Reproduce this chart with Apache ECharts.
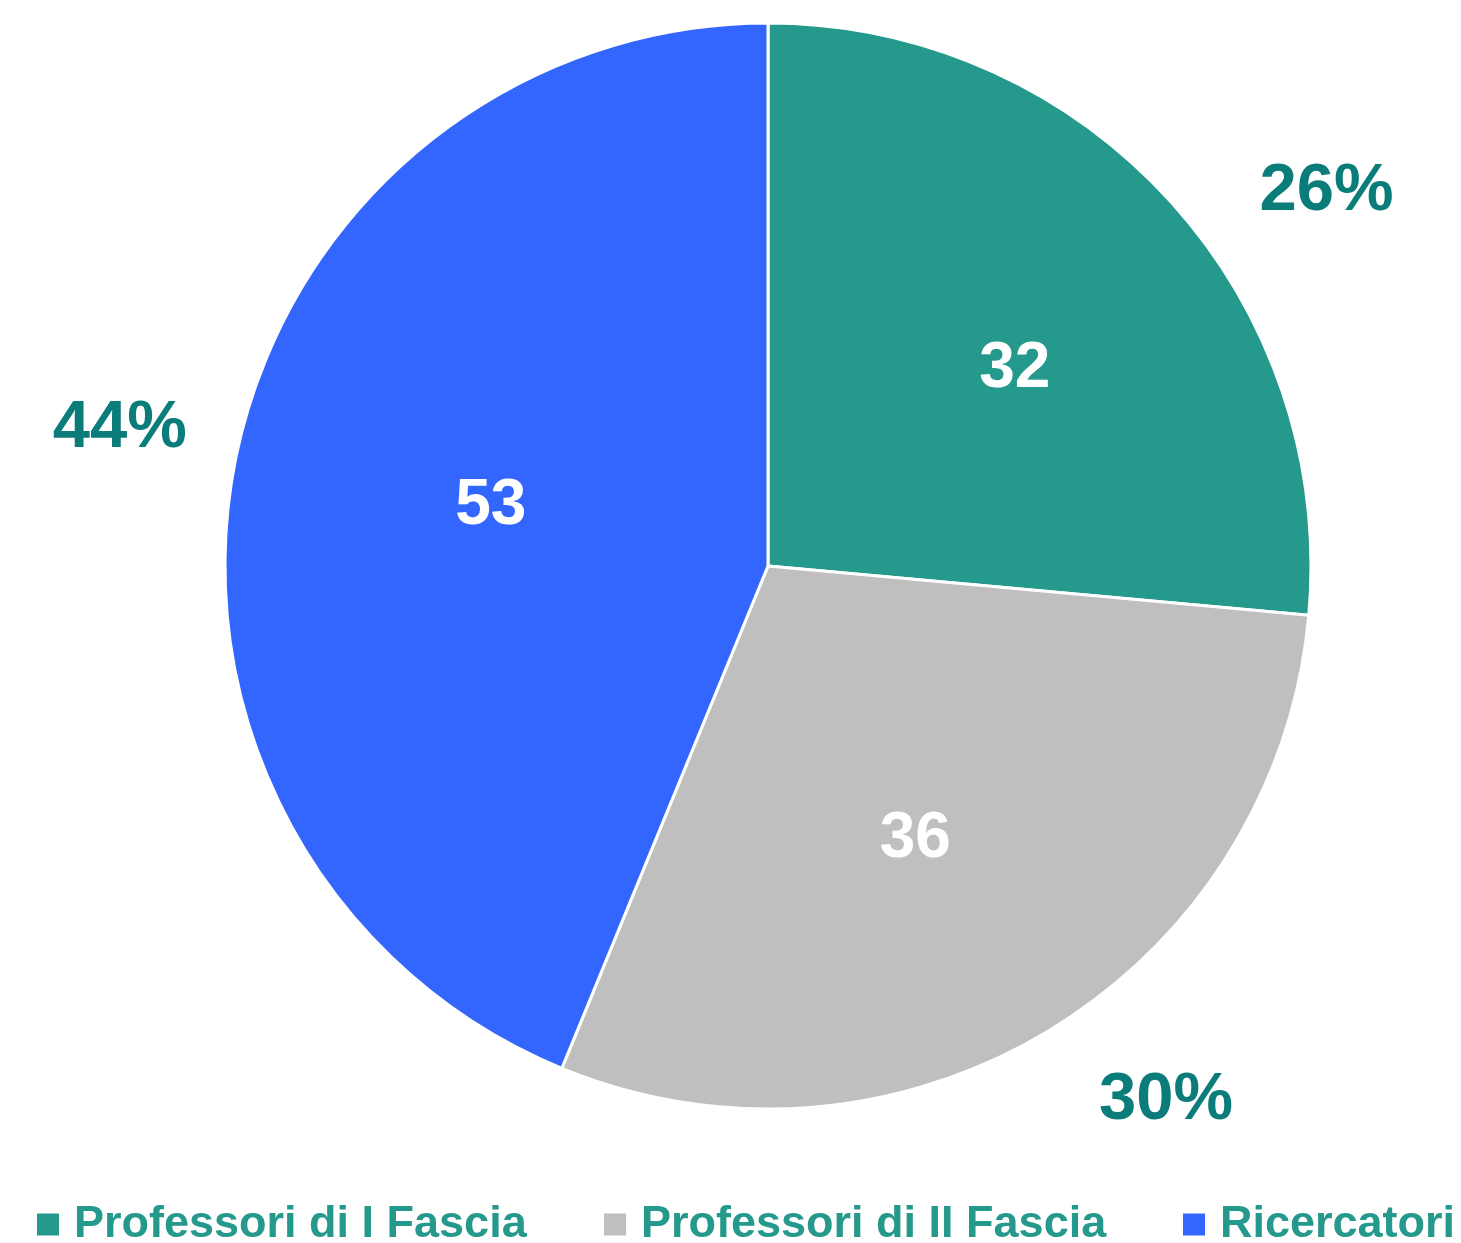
<!DOCTYPE html>
<html>
<head>
<meta charset="utf-8">
<script src="https://cdn.jsdelivr.net/npm/echarts@6/dist/echarts.min.js"></script>
<style>
  html, body { margin: 0; padding: 0; background: #fff; }
  #chart { width: 1461px; height: 1243px; }
</style>
</head>
<body>
<div id="chart"></div>
<script>
const categories = ["Professori di I Fascia", "Professori di II Fascia", "Ricercatori"];
const values = [32, 36, 53];
const percents = ["26%", "30%", "44%"];
const colors = ["#25998C", "#BFBFBF", "#3366FF"];
// label nudges (px) so labels sit where the original has them
const innerOffsets = [[20, 10], [-12, 11], [24, 0]];
const outerOffsets = [[63, 78], [50, -39], [10, -8]];
// left edge of each legend entry
const legendLefts = [35, 602, 1181];

const chart = echarts.init(document.getElementById("chart"));
const R = 543;
const center = [768, 566];
const font = "'Liberation Sans', Arial, sans-serif";

const mainData = categories.map((name, i) => ({
  name: name,
  value: values[i],
  itemStyle: { color: colors[i] }
}));
const labelData = (texts, offsets) => categories.map((name, i) => ({
  name: name,
  value: values[i],
  label: { formatter: String(texts[i]), offset: offsets[i] }
}));

// one legend per entry so the row never wraps
const legends = categories.map((name, i) => ({
  data: [name],
  left: legendLefts[i],
  top: 1202,
  padding: 0,
  icon: "rect",
  itemWidth: 24,
  itemHeight: 24,
  textStyle: {
    color: "#25998C",
    fontFamily: font,
    fontWeight: "bold",
    fontSize: 45,
    padding: [0, 0, 0, 9]
  }
}));

chart.setOption({
  animation: false,
  legend: legends,
  series: [
    {
      type: "pie",
      radius: R,
      center: center,
      startAngle: 90,
      clockwise: true,
      label: { show: false },
      labelLine: { show: false },
      itemStyle: { borderColor: "#fff", borderWidth: 3 },
      emphasis: { disabled: true },
      data: mainData
    },
    {
      // value labels inside the slices
      type: "pie",
      radius: R * 1.12,
      center: center,
      startAngle: 90,
      silent: true,
      legendHoverLink: false,
      itemStyle: { color: "transparent" },
      emphasis: { disabled: true },
      label: {
        position: "inside",
        color: "#fff",
        fontFamily: font,
        fontWeight: "bold",
        fontSize: 64
      },
      labelLine: { show: false },
      data: labelData(values, innerOffsets)
    },
    {
      // percentage labels outside the pie
      type: "pie",
      radius: R * 2.46,
      center: center,
      startAngle: 90,
      silent: true,
      legendHoverLink: false,
      itemStyle: { color: "transparent" },
      emphasis: { disabled: true },
      label: {
        position: "inside",
        color: "#0A7C7A",
        fontFamily: font,
        fontWeight: "bold",
        fontSize: 67
      },
      labelLine: { show: false },
      data: labelData(percents, outerOffsets)
    }
  ]
});
</script>
</body>
</html>
